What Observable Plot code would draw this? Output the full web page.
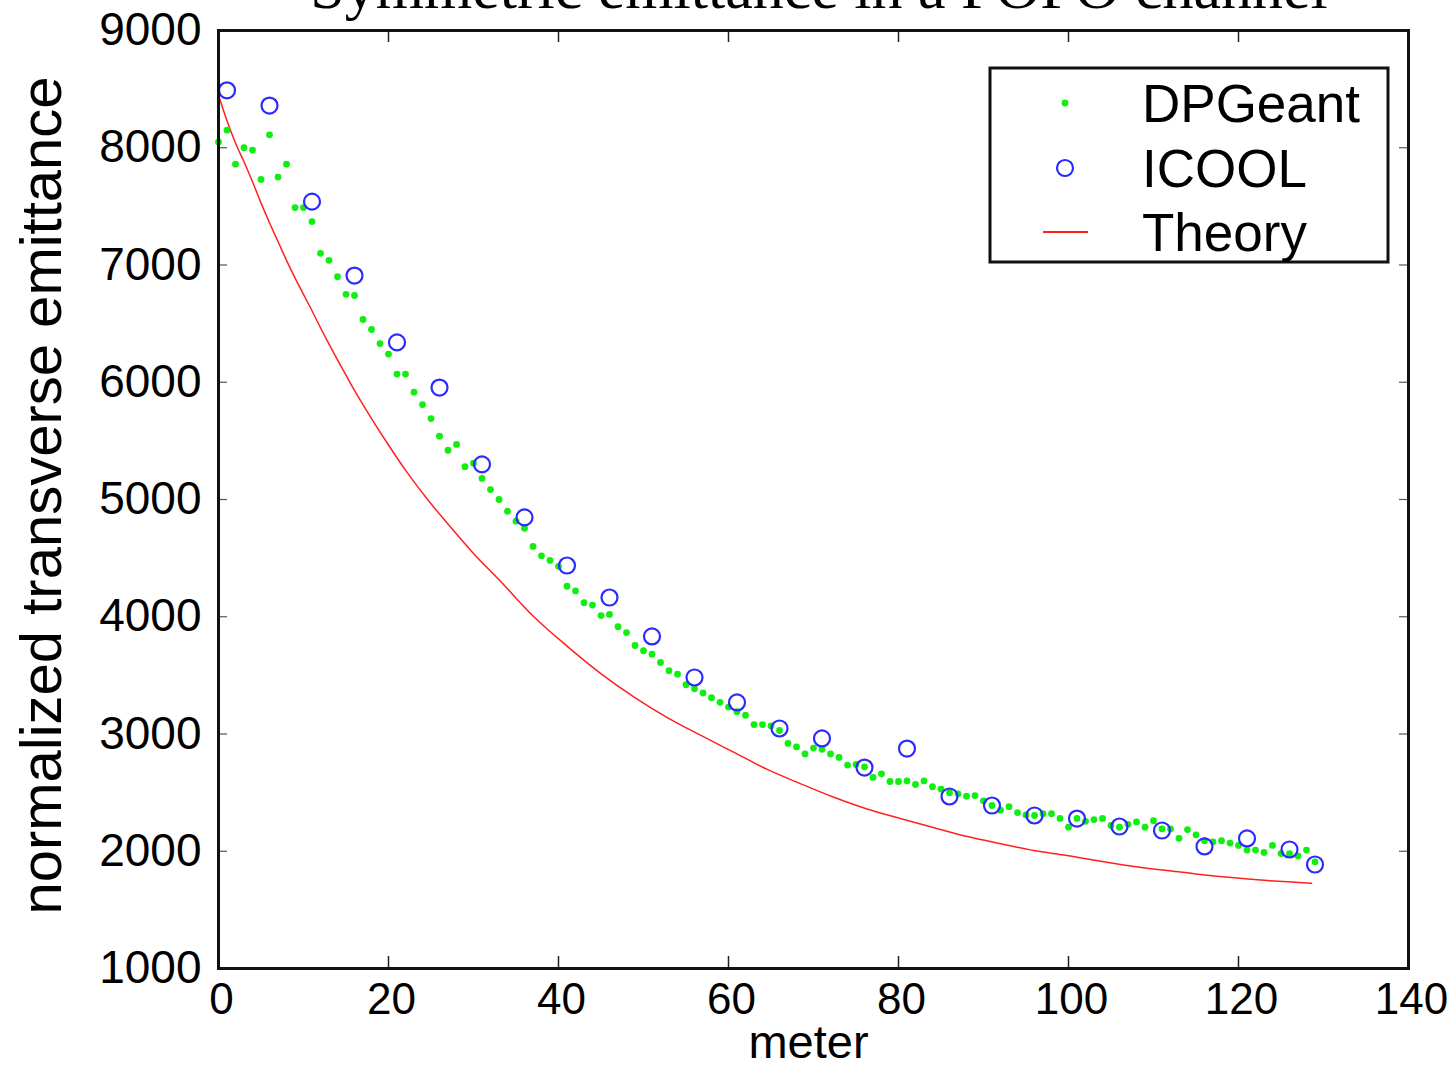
<!DOCTYPE html>
<html>
<head>
<meta charset="utf-8">
<script src="https://cdn.jsdelivr.net/npm/d3@7"></script>
<script src="https://cdn.jsdelivr.net/npm/@observablehq/plot@0.6"></script>
<style>
  html, body { margin: 0; padding: 0; background: white; overflow: hidden; }
</style>
</head>
<body>
<script>
const titleText = "Symmetric emittance in a FOFO channel";
const xLabel = "meter";
const yLabel = "normalized transverse emittance";
const xTicks = [0, 20, 40, 60, 80, 100, 120, 140];
const yTicks = [1000, 2000, 3000, 4000, 5000, 6000, 7000, 8000, 9000];
const seriesNames = ["DPGeant", "ICOOL", "Theory"];

// DPGeant: one value per metre, x = 0..129
const dpgeantX = d3.range(0, 130);
const dpgeantY = [
  8050, 8150, 7860, 8000, 7980, 7730, 8110, 7750, 7860, 7490,
  7490, 7370, 7100, 7040, 6900, 6750, 6740, 6535, 6450, 6330,
  6240, 6070, 6070, 5915, 5810, 5690, 5540, 5420, 5470, 5280,
  5310, 5180, 5085, 5000, 4900, 4815, 4755, 4600, 4520, 4480,
  4430, 4260, 4220, 4120, 4100, 4010, 4020, 3915, 3865, 3755,
  3710, 3680, 3610, 3540, 3510, 3420, 3385, 3350, 3310, 3270,
  3230, 3190, 3160, 3080, 3080, 3070, 3030, 2920, 2890, 2830,
  2880, 2870, 2830, 2800, 2735, 2740, 2720, 2630, 2660, 2595,
  2595, 2600, 2570, 2600, 2550, 2530, 2500, 2490, 2470, 2475,
  2430, 2390, 2350, 2380, 2330, 2310, 2305, 2320, 2320, 2280,
  2205, 2280, 2255, 2270, 2280, 2220, 2205, 2230, 2250, 2205,
  2260, 2190, 2190, 2110, 2185, 2140, 2090, 2080, 2090, 2070,
  2050, 2010, 2010, 1990, 2050, 1980, 1980, 1960, 2010, 1910
];

// ICOOL
const icoolX = [1, 6, 11, 16, 21, 26, 31, 36, 41, 46, 51, 56, 61, 66, 71, 76, 81, 86, 91, 96, 101, 106, 111, 116, 121, 126, 129];
const icoolY = [8490, 8360, 7540, 6910, 6340, 5955, 5300, 4847, 4437, 4164, 3832, 3482, 3269, 3047, 2962, 2714, 2876, 2467, 2390, 2305, 2279, 2211, 2177, 2041, 2109, 2015, 1887];

// Theory curve
const theoryX = [0, 1, 2, 3, 4, 5, 6, 7, 8, 9, 10, 11, 12, 13, 14, 15, 16, 18, 20, 22, 24.6, 27.3, 30, 33.2, 37.1, 41, 44.9, 48.9, 52.8, 56.7, 60.6, 64.5, 68.5, 72.4, 76.3, 80.2, 84.2, 88.1, 92, 95.9, 99.8, 103.8, 107.7, 111.6, 115.5, 119.5, 123.4, 128.6];
const theoryY = [8450, 8230, 8040, 7880, 7710, 7530, 7360, 7200, 7040, 6890, 6750, 6610, 6465, 6325, 6190, 6060, 5930, 5690, 5465, 5250, 5000, 4765, 4540, 4300, 4000, 3750, 3520, 3315, 3140, 2990, 2845, 2700, 2575, 2460, 2360, 2280, 2200, 2125, 2064, 2006, 1964, 1915, 1870, 1836, 1802, 1773, 1750, 1728];

const dpgeant = dpgeantX.map((x, i) => ({x, y: dpgeantY[i]}));
const icool = icoolX.map((x, i) => ({x, y: icoolY[i]}));
const theory = theoryX.map((x, i) => ({x, y: theoryY[i]}));

const W = 1455, H = 1065;
const mL = 218, mR = 47, mT = 30, mB = 97;
const plotW = W - mL - mR, plotH = H - mT - mB;
const sans = "'Liberation Sans', Arial, Helvetica, sans-serif";
const green = "#11ee11", blue = "#2b2bff", red = "#ff2020";

const innerX = xTicks.filter(d => d > 0 && d < 140);
const innerY = yTicks.filter(d => d > 1000 && d < 9000);

const chart = Plot.plot({
  width: W,
  height: H,
  marginLeft: mL,
  marginRight: mR,
  marginTop: mT,
  marginBottom: mB,
  x: {domain: [0, 140], axis: null},
  y: {domain: [1000, 9000], axis: null},
  style: {background: "white", fontFamily: sans, color: "black", overflow: "visible"},
  marks: [
    Plot.line(theory, {x: "x", y: "y", stroke: red, strokeWidth: 1.5, curve: "monotone-x"}),
    Plot.dot(dpgeant, {x: "x", y: "y", r: 3.4, fill: green, stroke: "none"}),
    Plot.dot(icool, {x: "x", y: "y", r: 8, stroke: blue, strokeWidth: 2.2, fill: "none"}),
    // inner ticks
    Plot.tickX(innerX, {x: d => d, insetTop: plotH - 12, stroke: "#222", strokeWidth: 1.5}),
    Plot.tickX(innerX, {x: d => d, insetBottom: plotH - 12, stroke: "#222", strokeWidth: 1.5}),
    Plot.tickY(innerY, {y: d => d, insetRight: plotW - 9, stroke: "#555", strokeWidth: 1.2}),
    Plot.tickY(innerY, {y: d => d, insetLeft: plotW - 9, stroke: "#555", strokeWidth: 1.2}),
    Plot.frame({stroke: "#111", strokeWidth: 3}),
    // tick labels
    Plot.text(xTicks, {x: d => d, frameAnchor: "bottom", lineAnchor: "middle", dy: 31, dx: 3, text: d => String(d), fontSize: 44, fill: "black"}),
    Plot.text(yTicks, {y: d => d, frameAnchor: "left", lineAnchor: "middle", dx: -17, textAnchor: "end", text: d => String(d), fontSize: 46, fill: "black"}),
    // axis labels
    Plot.text([xLabel], {frameAnchor: "bottom", lineAnchor: "middle", textAnchor: "middle", dy: 74, dx: -5, text: d => d, fontSize: 47, fill: "black"}),
    Plot.text([yLabel], {frameAnchor: "left", lineAnchor: "middle", textAnchor: "middle", dx: -176, dy: -4, rotate: -90, text: d => d, fontSize: 58, fill: "black"})
  ]
});

document.body.appendChild(chart);

// Title (partly cut off at the top, as in the reference)
const svg = d3.select(chart);
svg.append("text")
  .attr("x", 819).attr("y", 8)
  .attr("text-anchor", "middle")
  .attr("font-family", "'Liberation Serif', 'Times New Roman', Times, serif")
  .attr("font-size", 62)
  .attr("fill", "black")
  .text(titleText);

// Legend
const lg = svg.append("g").attr("class", "legend");
lg.append("rect").attr("x", 990).attr("y", 68).attr("width", 398).attr("height", 194)
  .attr("fill", "white").attr("stroke", "#111").attr("stroke-width", 3);
const rows = [103, 168, 232];
lg.append("circle").attr("cx", 1065).attr("cy", rows[0]).attr("r", 3.4).attr("fill", green);
lg.append("circle").attr("cx", 1065).attr("cy", rows[1]).attr("r", 8).attr("fill", "none").attr("stroke", blue).attr("stroke-width", 2.2);
lg.append("line").attr("x1", 1043).attr("x2", 1088).attr("y1", rows[2]).attr("y2", rows[2]).attr("stroke", red).attr("stroke-width", 1.8);
seriesNames.forEach((name, i) => {
  lg.append("text").attr("x", 1142).attr("y", rows[i] + 19)
    .attr("text-anchor", "start")
    .attr("font-family", sans).attr("font-size", 53).attr("fill", "black")
    .text(name);
});
</script>
</body>
</html>
